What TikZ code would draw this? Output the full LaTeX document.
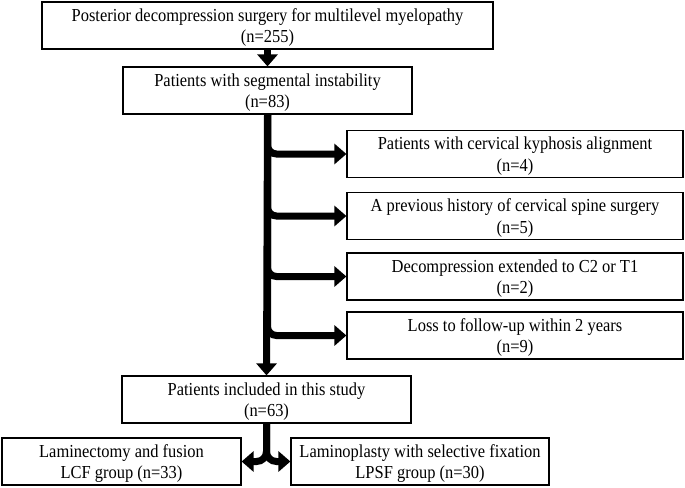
\documentclass[tikz,border=0pt]{standalone}
\usepackage{fontspec}
\setmainfont{Liberation Serif}[FakeStretch=0.9]
\usetikzlibrary{arrows.meta,positioning,calc}

\begin{document}
\begin{tikzpicture}[x=1pt,y=-1pt,
  every node/.style={draw,line width=1.2pt,align=center,inner sep=0pt,
    minimum height=47pt,text depth=0pt,font=\fontsize{18.3}{21.5}\selectfont},
  fat/.style={line width=7pt,-{Triangle[length=12pt,width=20pt]}}]
\useasboundingbox (0,0) rectangle (685,487);
% main column
\node (n1) at (267.5,25.5) [minimum width=451pt] {Posterior decompression surgery for multilevel myelopathy\\(n=255)};
\node (n2) at (267.5,90.5) [minimum width=289pt] {Patients with segmental instability\\(n=83)};
\node (n3) at (266.5,399.5) [minimum width=289pt] {Patients included in this study\\(n=63)};
% excluded
\node (e1) at (515,154) [minimum width=336pt] {Patients with cervical kyphosis alignment\\(n=4)};
\node (e2) at (515,216) [minimum width=336pt] {A previous history of cervical spine surgery\\(n=5)};
\node (e3) at (515,276.5) [minimum width=336pt] {Decompression extended to C2 or T1\\(n=2)};
\node (e4) at (515,335.5) [minimum width=336pt] {Loss to follow-up within 2 years\\(n=9)};
% groups
\node (g1) at (121.5,461.5) [minimum width=239pt] {Laminectomy and fusion\\LCF group (n=33)};
\node (g2) at (420,461.5) [minimum width=258pt] {Laminoplasty with selective fixation\\LPSF group (n=30)};

\draw[fat] (n1.south) -- (n2.north);
\draw[fat] (n2.south) -- (n3.north);
\draw[fat,rounded corners=9pt] (n2.south) |- (e1.west);
\draw[fat,rounded corners=9pt] (n2.south) |- (e2.west);
\draw[fat,rounded corners=9pt] (n2.south) |- (e3.west);
\draw[fat,rounded corners=9pt] (n2.south) |- (e4.west);
\draw[fat,rounded corners=10pt] (n3.south) |- (g1.east);
\draw[fat,rounded corners=10pt] (n3.south) |- (g2.west);
\end{tikzpicture}
\end{document}
